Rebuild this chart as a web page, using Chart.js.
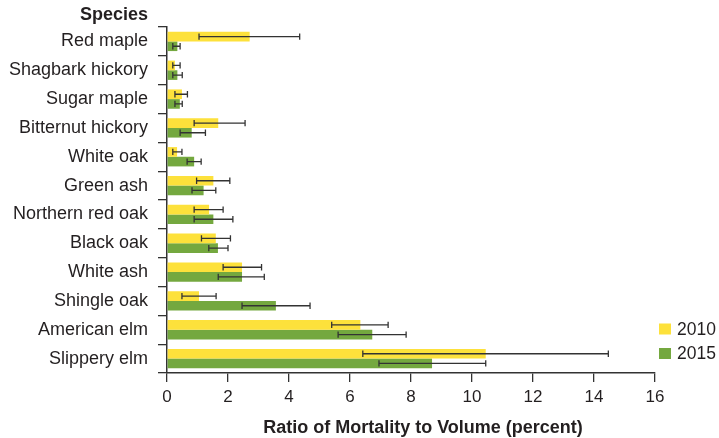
<!DOCTYPE html>
<html>
<head>
<meta charset="utf-8">
<script src="https://cdn.jsdelivr.net/npm/chart.js@4"></script>
<style>
  html, body { margin: 0; padding: 0; background: #fff; }
  #wrap { width: 719px; height: 438px; }
</style>
</head>
<body>
<div id="wrap"><canvas id="mortalityChart" width="719" height="438"></canvas></div>
<script>
const species = ['Red maple', 'Shagbark hickory', 'Sugar maple', 'Bitternut hickory', 'White oak', 'Green ash',
    'Northern red oak', 'Black oak', 'White ash', 'Shingle oak', 'American elm', 'Slippery elm'];
const ratio2010 = [2.71, 0.26, 0.49, 1.68, 0.33, 1.52, 1.38, 1.60, 2.46, 1.05, 6.34, 10.45];
const low2010   = [1.05, 0.19, 0.26, 0.89, 0.19, 0.97, 0.89, 1.13, 1.84, 0.49, 5.40, 6.42];
const high2010  = [4.35, 0.43, 0.67, 2.56, 0.49, 2.06, 1.84, 2.08, 3.10, 1.61, 7.25, 14.47];
const ratio2015 = [0.34, 0.34, 0.42, 0.81, 0.89, 1.20, 1.52, 1.67, 2.46, 3.57, 6.73, 8.69];
const low2015   = [0.19, 0.19, 0.26, 0.43, 0.66, 0.82, 0.89, 1.37, 1.68, 2.46, 5.61, 6.95];
const high2015  = [0.43, 0.50, 0.50, 1.26, 1.12, 1.60, 2.16, 2.00, 3.19, 4.69, 7.84, 10.45];
const xTicks = [0, 2, 4, 6, 8, 10, 12, 14, 16];

const FONT = '"Liberation Sans", Arial, Helvetica, sans-serif';
const INK = '#231f20';

// error bars + the extra texts (Species heading, axis title, legend)
const extras = {
    id: 'extras',
    afterDatasetsDraw(chart) {
        const ctx = chart.ctx;
        const x = chart.scales.x;
        const ranges = [[low2010, high2010], [low2015, high2015]];
        ctx.save();
        ctx.strokeStyle = '#333';
        ctx.lineWidth = 1.3;
        chart.data.datasets.forEach((ds, i) => {
            const meta = chart.getDatasetMeta(i);
            meta.data.forEach((bar, j) => {
                const x1 = x.getPixelForValue(ranges[i][0][j]);
                const x2 = x.getPixelForValue(ranges[i][1][j]);
                const y = bar.y;
                ctx.beginPath();
                ctx.moveTo(x1, y); ctx.lineTo(x2, y);
                ctx.moveTo(x1, y - 3.2); ctx.lineTo(x1, y + 3.2);
                ctx.moveTo(x2, y - 3.2); ctx.lineTo(x2, y + 3.2);
                ctx.stroke();
            });
        });
        ctx.restore();
    },
    afterDraw(chart) {
        const ctx = chart.ctx;
        ctx.save();
        ctx.fillStyle = INK;
        ctx.textBaseline = 'middle';
        ctx.font = 'bold 18px ' + FONT;
        ctx.textAlign = 'right';
        ctx.fillText('Species', 148, 15);
        ctx.textAlign = 'center';
        ctx.fillText('Ratio of Mortality to Volume (percent)', 423, 428);

        ctx.textAlign = 'left';
        ctx.font = '17.5px ' + FONT;
        const legendY = [329, 353.5];
        chart.data.datasets.forEach((ds, i) => {
            ctx.fillStyle = ds.backgroundColor;
            ctx.fillRect(659, legendY[i] - 5.5, 12, 11);
            ctx.fillStyle = INK;
            ctx.fillText(ds.label, 677, legendY[i] + 1);
        });
        ctx.restore();
    }
};

new Chart(document.getElementById('mortalityChart'), {
    type: 'bar',
    data: {
        labels: species,
        datasets: [
            { label: '2010', data: ratio2010, backgroundColor: '#fde13b' },
            { label: '2015', data: ratio2015, backgroundColor: '#74a83f' }
        ]
    },
    options: {
        indexAxis: 'y',
        responsive: false,
        animation: false,
        layout: { padding: { top: 27, right: 64, bottom: 0, left: 0 } },
        datasets: { bar: { categoryPercentage: 0.67, barPercentage: 1.0, borderWidth: 0 } },
        plugins: { legend: { display: false }, tooltip: { enabled: false } },
        scales: {
            x: {
                min: 0, max: 16,
                afterBuildTicks: s => { s.ticks = xTicks.map(v => ({ value: v })); },
                afterFit: s => { s.height = 65; },
                grid: { drawOnChartArea: false, tickLength: 9, color: '#333', lineWidth: 1.3 },
                border: { color: '#333', width: 1.5 },
                ticks: { color: INK, font: { family: FONT, size: 17 }, padding: 5, maxRotation: 0 }
            },
            y: {
                afterFit: s => { s.width = 167; },
                grid: { drawOnChartArea: false, tickLength: 9, color: '#333', lineWidth: 1.3, offset: true },
                border: { color: '#333', width: 1.5 },
                ticks: { color: INK, font: { family: FONT, size: 18 }, padding: 10 }
            }
        }
    },
    plugins: [extras]
});
</script>
</body>
</html>
